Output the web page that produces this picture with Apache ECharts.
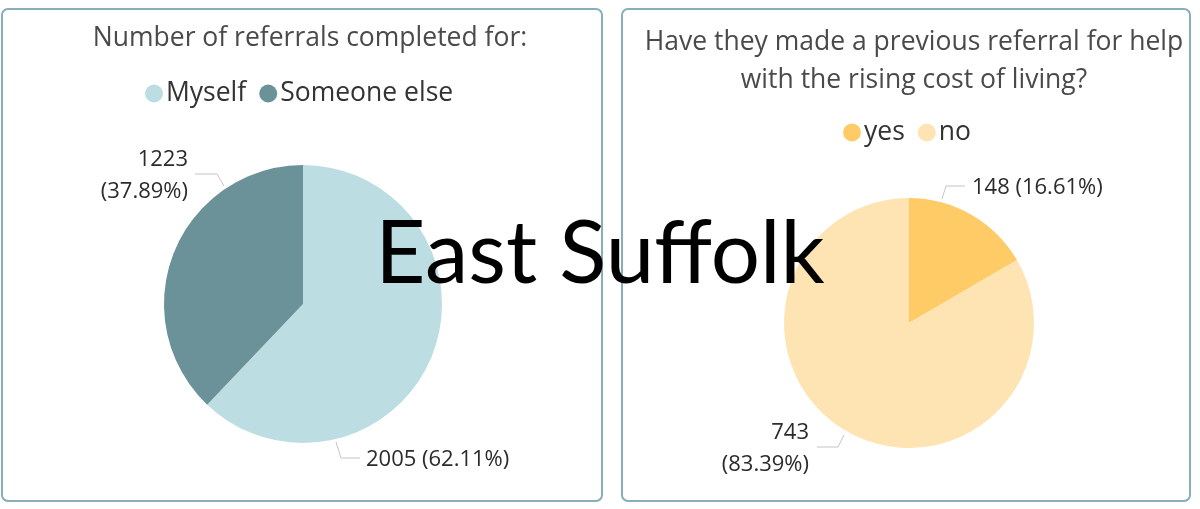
<!DOCTYPE html>
<html>
<head>
<meta charset="utf-8">
<script src="https://cdn.jsdelivr.net/npm/echarts@6/dist/echarts.min.js"></script>
<style>
  html, body { margin: 0; padding: 0; background: #fff; }
  #chart { width: 1200px; height: 509px; }
</style>
</head>
<body>
<div id="chart"></div>
<script>
  // left pie: who the referral was completed for
  const forNames = ['Myself', 'Someone else'];
  const forValues = [2005, 1223];
  // right pie: previous referral made
  const prevNames = ['yes', 'no'];
  const prevValues = [148, 743];

  const forColors = ['#bcdde2', '#6a9298'];
  const prevColors = ['#fecb66', '#fee4b3'];

  const font = 'Open Sans';

  let chart = echarts.init(document.getElementById('chart'));

  // label placement, PowerBI style (labels and their leader lines)
  const forLabelPos = [
    {x: 366, y: 460, align: 'left', verticalAlign: 'middle',
     labelLinePoints: [[336, 442], [341, 458], [360, 458]]},
    {x: 188, y: 176, align: 'right', verticalAlign: 'middle',
     labelLinePoints: [[224, 186], [217, 174], [195, 174]]}
  ];
  const prevLabelPos = [
    {x: 972, y: 188, align: 'left', verticalAlign: 'middle',
     labelLinePoints: [[942, 199], [946, 186], [965, 186]]},
    {x: 809, y: 449, align: 'right', verticalAlign: 'middle',
     labelLinePoints: [[844, 435], [838, 447], [817, 447]]}
  ];

  function buildData(names, values, twoLine) {
    return names.map((n, i) => ({
      name: n,
      value: values[i],
      label: {formatter: twoLine[i] ? '{c}\n({d}%)' : '{c} ({d}%)'}
    }));
  }

  let option = {
    animation: false,
    title: [{
      text: 'Number of referrals completed for:',
      left: 305, top: 20, textAlign: 'center',
      textStyle: {fontFamily: font, fontSize: 26.5, fontWeight: 'normal', color: '#4a4a4a'}
    }, {
      text: 'Have they made a previous referral for help\nwith the rising cost of living?',
      left: 909, top: 18, textAlign: 'center',
      textStyle: {fontFamily: font, fontSize: 26.5, fontWeight: 'normal', color: '#4a4a4a', lineHeight: 38}
    }],
    legend: [{
      data: forNames,
      left: 140, top: 75,
      icon: 'circle', itemWidth: 18, itemHeight: 18, itemGap: 13,
      textStyle: {fontFamily: font, fontSize: 26.5, color: '#333', padding: [0, 0, 0, -2]}
    }, {
      data: prevNames,
      left: 838, top: 114,
      icon: 'circle', itemWidth: 18, itemHeight: 18, itemGap: 13,
      textStyle: {fontFamily: font, fontSize: 26.5, color: '#333', padding: [0, 0, 0, -2]}
    }],
    graphic: [{
      type: 'rect', shape: {x: 2, y: 9, width: 600, height: 492, r: 6},
      style: {fill: 'none', stroke: '#86aebb', lineWidth: 2}
    }, {
      type: 'rect', shape: {x: 622, y: 9, width: 568, height: 492, r: 6},
      style: {fill: 'none', stroke: '#86aebb', lineWidth: 2}
    }, {
      type: 'text', left: 'center', top: 211, z: 100,
      style: {text: 'East Suffolk', fontFamily: 'Lato', fontSize: 87, fill: '#000'}
    }],
    series: [{
      type: 'pie',
      center: [303, 304], radius: 139,
      startAngle: 90, clockwise: true,
      color: forColors,
      data: buildData(forNames, forValues, [false, true]),
      label: {fontFamily: font, fontSize: 22, color: '#2b2b2b', lineHeight: 32},
      labelLine: {lineStyle: {color: '#c4c4c4', width: 1}},
      labelLayout: function (p) {
        return forLabelPos[p.dataIndex];
      },
      emphasis: {disabled: true}
    }, {
      type: 'pie',
      center: [909, 323], radius: 125,
      startAngle: 90, clockwise: true,
      color: prevColors,
      data: buildData(prevNames, prevValues, [false, true]),
      label: {fontFamily: font, fontSize: 22, color: '#2b2b2b', lineHeight: 32},
      labelLine: {lineStyle: {color: '#c4c4c4', width: 1}},
      labelLayout: function (p) {
        return prevLabelPos[p.dataIndex];
      },
      emphasis: {disabled: true}
    }]
  };
  chart.setOption(option);
</script>
</body>
</html>
